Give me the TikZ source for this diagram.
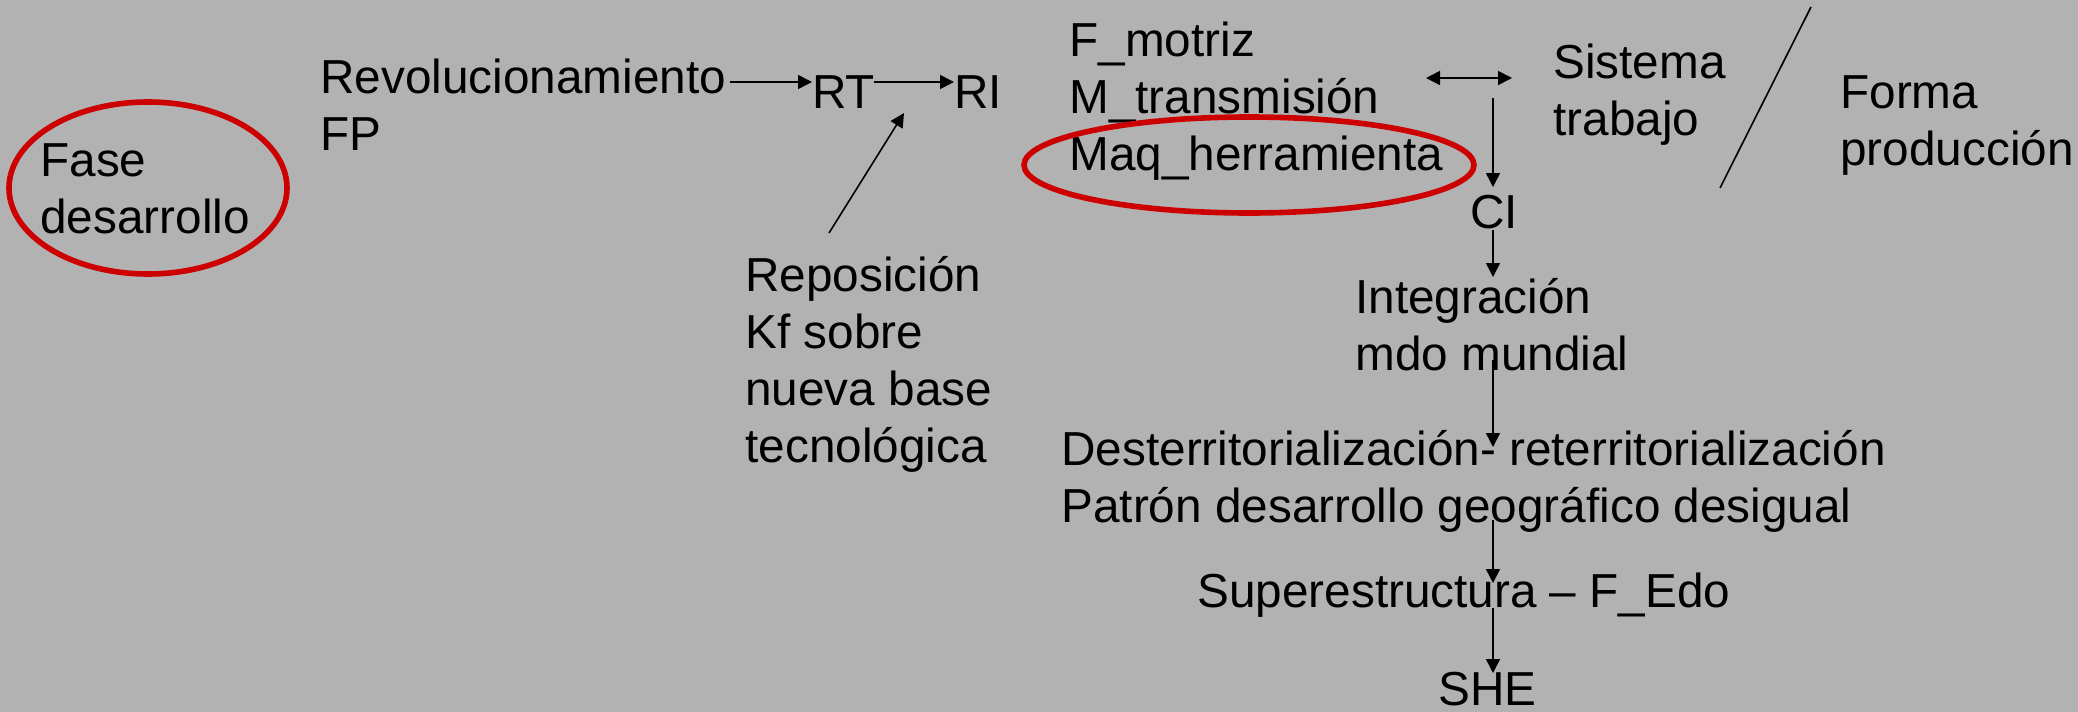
\documentclass[tikz,border=0pt]{standalone}
\usepackage{fontspec}
\setmainfont{Liberation Sans}
\usetikzlibrary{arrows.meta}
\definecolor{slidegray}{HTML}{B2B2B2}
\definecolor{ringred}{HTML}{CC0000}

\begin{document}
\begin{tikzpicture}[x=0.5pt,y=-0.5pt]
  \tikzset{lbl/.style={anchor=base west,inner sep=0pt,align=left,
      font=\fontsize{23.85}{28.5}\selectfont},
    tip/.tip={Triangle[length=7pt,width=7pt]},
    arr/.style={-tip,line width=0.8pt},
    ring/.style={draw=ringred,line width=2.8pt}}
  \fill[slidegray] (0,0) rectangle (2078,712);
  \useasboundingbox (0,0) rectangle (2078,712);
  % text blocks (base = last line)
  \node[lbl] (fase) at (40,233) {Fase\\desarrollo};
  \node[lbl] (revol) at (320,150) {Revolucionamiento\\FP};
  \node[lbl] (rt) at (812,108) {RT};
  \node[lbl] (ri) at (954,108) {RI};
  \node[lbl] (repos) at (745,462) {Reposición\\Kf sobre\\nueva base\\tecnológica};
  \node[lbl] (motriz) at (1069,170) {F\_motriz\\M\_transmisión\\Maq\_herramienta};
  \node[lbl] (sistema) at (1553,135) {Sistema\\trabajo};
  \node[lbl] (forma) at (1840,165) {Forma\\producción};
  \node[lbl] (ci) at (1470,228) {CI};
  \node[lbl] (integ) at (1355,370) {Integración\\mdo mundial};
  \node[lbl] (desterr) at (1061,522) {Desterritorialización- reterritorialización\\Patrón desarrollo geográfico desigual};
  \node[lbl] (super) at (1197,607) {Superestructura – F\_Edo};
  \node[lbl] (she) at (1438,705) {SHE};
  % free ends
  \coordinate (revolend) at (730,82);
  \coordinate (rtend) at (874,82);
  \coordinate (repostop) at (829,233);
  \coordinate (rtfoot) at (904,113);
  \coordinate (dblleft) at (1426,78);
  \coordinate (dblright) at (1512,78);
  \coordinate (slashtop) at (1811,7);
  \coordinate (slashfoot) at (1720,188);
  \coordinate (axis) at (1493,0);
  % circled items
  \draw[ring] (148,188) ellipse [x radius=139,y radius=86];
  \draw[ring] (1249,165) ellipse [x radius=225,y radius=48];
  % connectors
  \draw[arr] (revolend) -- (revolend -| rt.west);
  \draw[arr] (rtend) -- (rtend -| ri.west);
  \draw[arr] (repostop) -- (rtfoot);
  \draw[tip-tip,line width=0.8pt] (dblleft) -- (dblright);
  \draw[line width=0.8pt] (slashtop) -- (slashfoot);
  \draw[arr] (axis |- 0,98) -- (axis |- 0,187);
  \draw[arr] (axis |- 0,230) -- (axis |- 0,277);
  \draw[arr] (axis |- 0,360) -- (axis |- 0,447);
  \draw[arr] (axis |- 0,520) -- (axis |- 0,583);
  \draw[arr] (axis |- 0,608) -- (axis |- 0,673);
\end{tikzpicture}
\end{document}
